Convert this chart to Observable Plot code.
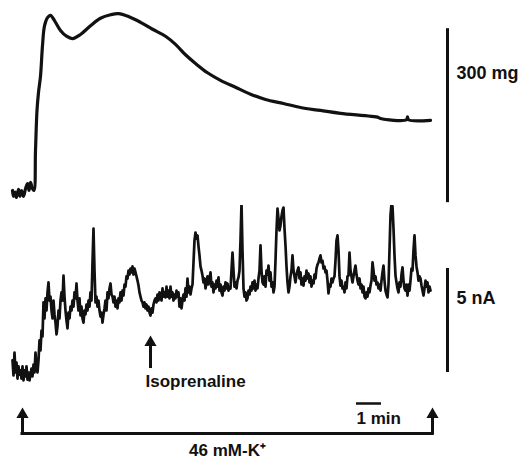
<!DOCTYPE html>
<html>
<head>
<meta charset="utf-8">
<script src="https://cdn.jsdelivr.net/npm/d3@7"></script>
<script src="https://cdn.jsdelivr.net/npm/@observablehq/plot@0.6"></script>
<style>
  html, body { margin: 0; padding: 0; background: #fff; }
  #chart { width: 523px; height: 460px; }
  #chart svg { display: block; }
</style>
</head>
<body>
<div id="chart"></div>
<script>
// ---- Tension trace (time in min, tension in mg relative to resting) ----
const tensionTime = [-0.40,-0.36,-0.30,-0.24,-0.16,-0.10,-0.04,0.04,0.12,0.20,0.26,0.32,0.40,0.46,0.52,0.58,0.64,0.72,0.80,0.88,1.00,1.12,1.28,1.52,1.76,2.00,2.32,2.72,3.12,3.52,3.84,4.24,4.72,5.20,5.72,6.12,6.52,6.92,7.40,7.92,8.52,9.12,9.72,10.44,11.12,11.92,12.72,14.24,14.32,15.36,15.40,15.44,16.32];
const tensionMg = [0,-10,-3,-12,2,-10,0,-10,3,12,0,14,3,0,69,138,169,197,250,284,298,302,293,276,266,262,269,284,297,303,305,300,290,278,266,252,234,219,203,190,178,166,157,150,143,138,133,126,124,122,127,122,121];

// ---- Membrane current trace (nA relative to holding level), sampled every 0.04 min ----
const currentStart = -0.40;
const sampleInterval = 0.04;
const currentNA = [
0.58,-0.14,0.96,0,0.48,-0.29,0.29,-0.10,0.10,-0.29,0.29,-0.38,0.10,-0.19,0.29,-0.34,0,-0.38,-0.10,0.19,-0.19,0.38,0,0.96,0.29,0,0.58,1.54,1.06,2.02,1.73,3.37,2.60,3.56,2.98,3.85,4.33,3.46,3.65,2.98,2.60,3.46,2.79,2.40,1.83,2.21,2.98,2.60,3.46,3.85,3.46,4.66,3.65,2.98,2.50,2.12,2.88,2.60,3.17,2.98,3.46,3.17,3.85,3.56,4.28,3.46,2.98,3.56,2.74,3.17,2.60,2.40,2.98,2.79,3.27,2.98,3.46,3.17,3.85,3.46,5.29,6.92,4.90,3.37,3.65,3.17,3.46,2.98,2.69,2.88,2.40,2.79,3.08,3.46,2.98,3.85,3.56,4.04,4.28,3.75,3.65,3.37,3.65,3.17,3.46,3.08,3.56,3.37,3.85,3.46,3.94,3.70,4.23,4.13,4.62,4.52,4.90,4.71,5.00,4.81,5.10,4.71,5.00,4.81,4.62,4.42,4.18,3.85,3.65,3.46,3.37,3.17,3.37,3.08,3.27,2.98,3.17,2.88,2.74,3.08,2.88,3.27,3.46,3.56,3.37,3.75,3.46,3.85,3.75,3.46,4.04,3.65,3.85,3.61,4.13,3.65,3.94,3.56,4.13,3.65,3.85,3.46,3.75,3.56,3.94,3.65,3.85,3.17,3.56,3.08,3.46,3.75,3.46,4.04,3.65,4.52,3.85,4.13,3.75,4.04,4.23,5.29,6.35,6.73,6.44,6.59,6.06,5.63,5.10,4.90,4.66,4.33,4.52,4.04,4.33,4.62,4.23,4.52,4.81,4.13,4.33,3.85,4.23,4.04,4.42,4.13,4.57,3.94,4.23,3.85,3.70,4.13,3.94,4.33,4.04,4.28,3.94,4.13,4.04,4.90,5.77,4.90,4.13,4.33,4.04,4.42,4.57,4.90,6.35,8.13,5.87,4.04,3.65,3.85,3.46,3.56,3.94,3.75,4.13,3.94,4.33,4.04,4.42,3.94,4.23,4.04,4.52,4.90,6.11,4.90,4.33,4.23,4.62,4.13,4.90,4.71,5.14,4.42,4.81,4.13,4.33,3.85,4.13,5.38,6.83,7.88,7.40,6.83,7.07,7.50,7.79,7.93,6.92,6.11,5.10,4.33,3.85,4.13,4.62,4.90,5.63,4.90,4.62,4.33,4.71,4.90,5.05,4.52,4.81,4.23,4.52,4.18,4.62,4.42,4.90,4.52,4.76,4.33,4.62,4.13,4.42,4.28,4.71,4.52,5.00,5.19,5.29,5.48,5.63,5.29,5.38,5.00,5.10,4.81,4.90,4.42,3.80,4.23,4.13,4.52,4.33,4.52,4.62,5.38,6.35,6.59,5.87,4.62,4.18,4.42,4.04,4.13,3.85,4.33,4.04,4.62,4.66,5.77,4.90,4.62,4.33,4.62,4.90,5.14,4.71,4.42,4.23,4.52,4.04,4.23,3.85,4.13,3.65,3.56,3.85,3.65,4.04,3.85,4.18,4.42,5.29,4.90,4.42,4.62,4.23,4.33,4.04,4.23,3.94,4.42,4.81,5.14,4.42,3.94,3.75,3.61,4.23,5.87,7.55,8.13,7.98,6.92,5.63,4.66,4.33,4.04,3.85,4.33,4.13,4.71,5.05,4.42,4.04,3.94,4.23,3.70,4.23,3.94,4.42,5.00,4.90,5.87,6.59,5.63,5.10,4.81,4.42,4.62,4.52,4.18,3.94,3.70,4.04,4.42,4.13,4.33,3.85,4.13,3.94
];

// ---- Annotations (times in min) ----
const tensionBar = 300;          // mg
const tensionBarLabel = "300 mg";
const currentBar = 5;            // nA
const currentBarLabel = "5 nA";
const timeBar = 1;               // min
const timeBarLabel = "1 min";
const drugTime = 5.12;           // isoprenaline added
const drugLabel = "Isoprenaline";
const kOn = 0, kOff = 16.4;      // 46 mM-K+ applied
const kLabel = "46 mM-K\u207A";

const tension = tensionTime.map((t, i) => ({t, mg: tensionMg[i]}));
const current = currentNA.map((v, i) => ({t: currentStart + i * sampleInterval, nA: v}));

const W = 523;
const xDom = [-0.88, 20.04];
const barT = 17.0, labelT = 17.36;
const ink = "#111";
const fontFamily = "'Liberation Sans', Arial, Helvetica, sans-serif";
const font = {fontFamily, fontSize: 17, fontWeight: "bold", fill: ink};
const fontL = {...font, fontSize: 18};
const common = {width: W, margin: 0, x: {domain: xDom, axis: null},
  style: {background: "#fff", fontFamily}};

const plotA = Plot.plot({
  ...common, height: 205,
  y: {domain: [-25.9, 327.6], axis: null},
  marks: [
    Plot.line(tension, {x: "t", y: "mg", curve: "catmull-rom", stroke: ink, strokeWidth: 3.2, strokeLinejoin: "round"}),
    Plot.ruleX([barT], {y1: -21, y2: -21 + tensionBar, stroke: ink, strokeWidth: 3}),
    Plot.text([tensionBarLabel], {x: labelT, y: 202, textAnchor: "start", ...fontL})
  ]
});

const plotB = Plot.plot({
  ...common, height: 190,
  y: {domain: [-1.106, 8.029], axis: null},
  marks: [
    Plot.line(current, {x: "t", y: "nA", stroke: ink, strokeWidth: 2.7, strokeLinejoin: "round"}),
    Plot.ruleX([barT], {y1: 0, y2: currentBar, stroke: ink, strokeWidth: 3}),
    Plot.text([currentBarLabel], {x: labelT, y: 3.56, textAnchor: "start", ...fontL}),
    Plot.ruleX([drugTime], {y1: 0.19, y2: 1.44, stroke: ink, strokeWidth: 3}),
    Plot.dot([drugTime], {x: d => d, y: 1.44, symbol: "triangle", r: 4.5, fill: ink, stroke: null}),
    Plot.text([drugLabel], {x: 4.92, y: -0.43, textAnchor: "start", ...font})
  ]
});

const plotC = Plot.plot({
  ...common, height: 65,
  y: {domain: [0, 1], axis: null},
  marks: [
    Plot.ruleY([0.415], {x1: kOn, x2: kOff, stroke: ink, strokeWidth: 3, strokeLinecap: "square"}),
    Plot.ruleX([kOn, kOff], {y1: 0.415, y2: 0.708, stroke: ink, strokeWidth: 3, strokeLinecap: "square"}),
    Plot.dot([kOn, kOff], {x: d => d, y: 0.708, symbol: "triangle", r: 4.5, fill: ink, stroke: null}),
    Plot.ruleY([0.877], {x1: 13.36, x2: 13.36 + timeBar, stroke: ink, strokeWidth: 2.5}),
    Plot.text([timeBarLabel], {x: 13.36, y: 0.646, textAnchor: "start", ...font}),
    Plot.text([kLabel], {x: 8.2, y: 0.154, textAnchor: "middle", ...font})
  ]
});

const chart = document.getElementById("chart");
chart.append(plotA, plotB, plotC);
</script>
</body>
</html>
